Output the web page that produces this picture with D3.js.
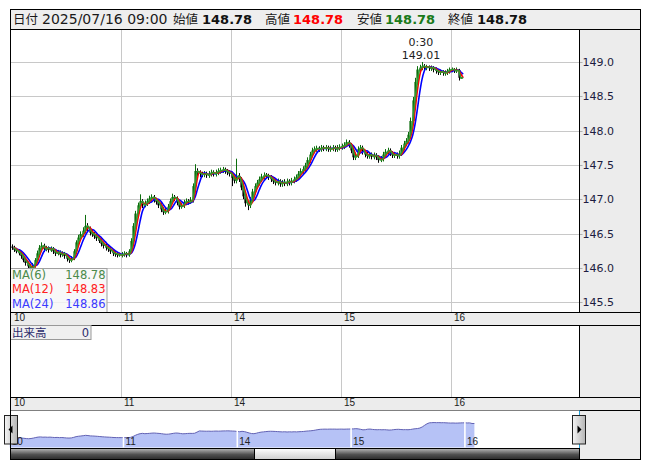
<!DOCTYPE html>
<html><head><meta charset="utf-8">
<script src="https://cdn.jsdelivr.net/npm/d3@7"></script>
<style>body{margin:0;background:#fff}svg{display:block}</style>
</head><body><svg id="c" width="653" height="470"></svg>
<script>
// ---------------- data (30-minute candles, sessions start 7:00) ----------------
const days = ["10","11","14","15","16"];
const firstOpen = 146.32;
const c10 = [146.30,146.27,146.25,146.22,146.18,146.12,146.08,146.03,146.00,146.04,146.12,146.22,146.30,146.33,146.28,146.30,146.27,146.29,146.25,146.22,146.24,146.20,146.22,146.18,146.14,146.12,146.15,146.25,146.38,146.45,146.50,146.55,146.62,146.58,146.52,146.50,146.47,146.44,146.40,146.36,146.33,146.30,146.28,146.25,146.22,146.21,146.20,146.20];
const h10 = [146.35,146.33,146.30,146.28,146.25,146.20,146.15,146.10,146.06,146.08,146.15,146.26,146.34,146.38,146.36,146.33,146.32,146.32,146.31,146.27,146.27,146.26,146.25,146.24,146.20,146.17,146.18,146.28,146.41,146.49,146.54,146.60,146.78,146.66,146.61,146.56,146.53,146.50,146.47,146.43,146.39,146.36,146.33,146.31,146.28,146.25,146.24,146.23];
const l10 = [146.27,146.24,146.22,146.19,146.14,146.09,146.04,145.99,145.96,145.97,146.01,146.09,146.19,146.27,146.24,146.25,146.23,146.24,146.21,146.18,146.19,146.16,146.17,146.14,146.10,146.08,146.09,146.12,146.22,146.34,146.42,146.46,146.51,146.54,146.48,146.46,146.43,146.40,146.37,146.32,146.29,146.26,146.24,146.21,146.18,146.17,146.16,146.17];
const c11 = [146.20,146.22,146.20,146.25,146.40,146.62,146.80,146.92,146.98,146.92,146.95,146.98,147.02,147.04,147.00,146.97,146.92,146.86,146.82,146.84,146.90,146.98,147.04,147.02,146.96,146.90,146.92,146.96,146.98,146.97,147.00,147.20,147.42,147.40,147.38,147.37,147.38,147.36,147.38,147.40,147.38,147.40,147.42,147.43,147.44,147.42,147.40,147.38];
const h11 = [146.24,146.25,146.24,146.28,146.44,146.66,146.84,146.96,147.08,147.01,146.99,147.02,147.06,147.08,147.07,147.03,147.00,146.95,146.89,146.88,146.94,147.02,147.09,147.07,147.05,146.99,146.96,147.00,147.02,147.01,147.04,147.24,147.52,147.46,147.43,147.41,147.42,147.41,147.42,147.44,147.43,147.44,147.46,147.47,147.48,147.47,147.45,147.43];
const l11 = [146.16,146.17,146.16,146.17,146.22,146.37,146.58,146.76,146.88,146.88,146.89,146.91,146.94,146.98,146.96,146.93,146.88,146.82,146.78,146.79,146.80,146.86,146.94,146.98,146.92,146.86,146.87,146.88,146.92,146.93,146.94,146.96,147.16,147.35,147.33,147.33,147.33,147.32,147.32,147.34,147.34,147.34,147.36,147.38,147.39,147.38,147.36,147.34];
const c14 = [147.32,147.28,147.35,147.30,147.18,147.05,146.95,146.92,147.00,147.12,147.20,147.25,147.30,147.34,147.36,147.35,147.33,147.30,147.27,147.25,147.27,147.23,147.26,147.24,147.27,147.25,147.28,147.30,147.33,147.38,147.42,147.45,147.50,147.58,147.66,147.72,147.74,147.75,147.74,147.76,147.75,147.76,147.74,147.75,147.76,147.74,147.76,147.77];
const h14 = [147.41,147.35,147.60,147.39,147.33,147.21,147.08,146.98,147.04,147.16,147.24,147.29,147.34,147.38,147.40,147.39,147.38,147.36,147.33,147.30,147.31,147.30,147.29,147.30,147.31,147.30,147.32,147.34,147.37,147.42,147.46,147.49,147.54,147.62,147.70,147.76,147.78,147.79,147.78,147.80,147.79,147.80,147.79,147.79,147.80,147.79,147.80,147.81];
const l14 = [147.20,147.24,147.24,147.26,147.14,147.01,146.90,146.85,146.88,146.96,147.08,147.16,147.21,147.26,147.30,147.31,147.29,147.26,147.23,147.21,147.21,147.19,147.19,147.20,147.20,147.21,147.21,147.24,147.26,147.29,147.34,147.38,147.41,147.46,147.54,147.62,147.68,147.70,147.70,147.70,147.71,147.71,147.70,147.70,147.71,147.70,147.70,147.72];
const c15 = [147.78,147.80,147.84,147.80,147.72,147.62,147.65,147.74,147.76,147.70,147.66,147.64,147.66,147.63,147.65,147.62,147.58,147.60,147.66,147.70,147.72,147.68,147.65,147.66,147.64,147.68,147.76,147.82,147.86,147.95,148.15,148.45,148.72,148.90,148.93,148.95,148.93,148.94,148.92,148.93,148.90,148.88,148.86,148.87,148.85,148.86,148.88,148.90];
const h15 = [147.82,147.84,147.88,147.87,147.83,147.75,147.69,147.78,147.80,147.79,147.73,147.70,147.70,147.69,147.69,147.68,147.65,147.64,147.70,147.74,147.76,147.75,147.71,147.70,147.69,147.72,147.80,147.86,147.90,147.99,148.20,148.50,148.78,148.95,148.97,149.01,148.98,148.97,148.96,148.96,148.95,148.93,148.90,148.90,148.89,148.89,148.91,148.93];
const l15 = [147.73,147.74,147.77,147.76,147.68,147.58,147.58,147.61,147.70,147.66,147.62,147.60,147.60,147.59,147.59,147.58,147.54,147.55,147.56,147.62,147.66,147.64,147.61,147.61,147.60,147.60,147.64,147.72,147.78,147.82,147.91,148.10,148.40,148.68,148.86,148.89,148.89,148.89,148.88,148.88,148.86,148.84,148.82,148.82,148.81,148.81,148.82,148.84];
const c16 = [148.90,148.88,148.89,148.78,148.78];
const h16 = [148.93,148.92,148.93,148.91,148.78];
const l16 = [148.86,148.85,148.85,148.74,148.78];
const candleMinutes = 30;          // interval of the arrays above
const maBaseMinutes = 5;           // MA periods are counted in 5-minute bars
const peakTimeLabel = "0:30";
const priceTicks = [145.5,146.0,146.5,147.0,147.5,148.0,148.5,149.0];
const maPeriods = [6,12,24];
const maColors = ["#2f9a2f","#ff0000","#0000ff"];
const maTextColors = ["#4a8a4a","#ff2020","#3a3aff"];
const maLegendValues = ["148.78","148.83","148.86"];
const headerDate = "2025/07/16 09:00";
const headerLabels = ["始値","高値","安値","終値"];
const headerValues = ["148.78","148.78","148.78","148.78"];
const headerColors = ["#111","#ff0000","#1a7a1a","#111"];
const volumeLabel = "出来高", volumeValue = "0";

// ---------------- build candles ----------------
const closes = [c10,c11,c14,c15,c16], highs = [h10,h11,h14,h15,h16], lows = [l10,l11,l14,l15,l16];
const candles = [];
let prev = firstOpen;
closes.forEach((arr,k)=>arr.forEach((c,j)=>{
  candles.push({t:k*24+j*candleMinutes/60, o:prev, h:highs[k][j], l:lows[k][j], c});
  prev = c;
}));
maPeriods.forEach((p,m)=>{
  const n = Math.max(1, Math.round(p*maBaseMinutes/candleMinutes));
  candles.forEach((d,i)=>{
    const s = candles.slice(Math.max(0,i-n+1), i+1);
    d["ma"+m] = d3.mean(s, e=>e.c);
  });
});

const svg = d3.select("#c");
const CJK = "'Noto Sans CJK JP', sans-serif";
const SANS = "'DejaVu Sans', sans-serif";
const defs = svg.append("defs");
defs.append("clipPath").attr("id","pc").append("rect").attr("x",10.5).attr("y",29.5).attr("width",569).attr("height",283);
const gDark = defs.append("linearGradient").attr("id","gDark").attr("x1",0).attr("y1",0).attr("x2",0).attr("y2",1);
gDark.append("stop").attr("offset",0).attr("stop-color","#b8b8b8");
gDark.append("stop").attr("offset",0.55).attr("stop-color","#505050");
gDark.append("stop").attr("offset",1).attr("stop-color","#2a2a2a");
const gLight = defs.append("linearGradient").attr("id","gLight").attr("x1",0).attr("y1",0).attr("x2",0).attr("y2",1);
gLight.append("stop").attr("offset",0).attr("stop-color","#ffffff");
gLight.append("stop").attr("offset",1).attr("stop-color","#cdcdcd");
const gBtn = defs.append("linearGradient").attr("id","gBtn").attr("x1",0).attr("y1",0).attr("x2",1).attr("y2",0);
gBtn.append("stop").attr("offset",0).attr("stop-color","#f6f6f6");
gBtn.append("stop").attr("offset",1).attr("stop-color","#b4b4b4");

// backgrounds
svg.append("rect").attr("width",653).attr("height",470).attr("fill","#fff");
svg.append("rect").attr("x",579.5).attr("y",29.5).attr("width",61).attr("height",430).attr("fill","#ececec");

// scales
const x = d3.scaleLinear().domain([0,120]).range([11.7,561.7]);
const y = d3.scaleLinear().domain([145.364,149.4915]).range([312,29]);
const dayStarts = days.map((d,k)=>k*24);

// grid
const grid = svg.append("g").attr("stroke","#c8c8c8").attr("stroke-width",1);
priceTicks.forEach(p=>{
  const yy = Math.floor(y(p))+0.5;
  grid.append("line").attr("x1",10.5).attr("x2",579.5).attr("y1",yy).attr("y2",yy);
});
dayStarts.slice(1).forEach(t=>{
  const xx = Math.floor(x(t))+0.5;
  grid.append("line").attr("x1",xx).attr("x2",xx).attr("y1",29.5).attr("y2",312.5);
  grid.append("line").attr("x1",xx).attr("x2",xx).attr("y1",325.5).attr("y2",397.5);
});

// candles
const plot = svg.append("g").attr("clip-path","url(#pc)");
const cg = plot.append("g");
candles.forEach(d=>{
  const cx = Math.round(x(d.t))+0.5;
  const col = d.c >= d.o ? "#0c6e0c" : "#000";
  cg.append("line").attr("x1",cx).attr("x2",cx).attr("y1",y(d.h)).attr("y2",y(d.l)).attr("stroke",col).attr("stroke-width",1);
  const top = y(Math.max(d.o,d.c)), bot = y(Math.min(d.o,d.c));
  cg.append("rect").attr("x",cx-1.1).attr("width",2.2).attr("y",top).attr("height",Math.max(1,bot-top)).attr("fill",col);
});
// moving averages, each point placed at its candle's close time
const closeT = d => d.t + candleMinutes/60;
[2,1,0].forEach(m=>{
  plot.append("path").datum(candles)
    .attr("d", d3.line().curve(d3.curveMonotoneX).x(d=>x(closeT(d))).y(d=>y(d["ma"+m])))
    .attr("fill","none").attr("stroke",maColors[m]).attr("stroke-width",1.6).attr("stroke-linejoin","round");
});

// peak annotation
const peak = candles.reduce((a,b)=>b.h>a.h?b:a);
svg.append("text").attr("x",x(peak.t)-1).attr("y",45.5).attr("text-anchor","middle")
  .attr("font-family",SANS).attr("font-size",11).attr("fill","#222").text(peakTimeLabel);
svg.append("text").attr("x",x(peak.t)-1).attr("y",58.5).attr("text-anchor","middle")
  .attr("font-family",SANS).attr("font-size",11).attr("fill","#222").text(d3.format(".2f")(peak.h));

// price axis
const ax = svg.append("g").attr("transform","translate(579.5,0)")
  .call(d3.axisRight(y).tickValues(priceTicks).tickFormat(d3.format(".1f")).tickSize(3).tickPadding(0));
ax.select(".domain").remove();
ax.selectAll(".tick").attr("transform",d=>`translate(0,${Math.floor(y(d))+0.5})`);
ax.selectAll(".tick line").attr("stroke","#b0b0b0");
ax.selectAll(".tick text").attr("font-family",SANS).attr("font-size",11).attr("fill","#1c1c40").attr("dy","0.36em");

// legend
const lg = svg.append("g");
lg.append("rect").attr("x",10.5).attr("y",268.5).attr("width",96.5).attr("height",44)
  .attr("fill","#f6f6f6").attr("fill-opacity",0.82).attr("stroke","#a0a0a0");
const lgY = [278.5,293,307.5];
maPeriods.forEach((p,m)=>{
  lg.append("text").attr("x",12).attr("y",lgY[m]).attr("font-family",SANS).attr("font-size",11.5)
    .attr("fill",maTextColors[m]).text(`MA(${p})`);
  lg.append("text").attr("x",105.5).attr("y",lgY[m]).attr("text-anchor","end").attr("font-family",SANS).attr("font-size",11.5)
    .attr("fill",maTextColors[m]).text(maLegendValues[m]);
});

// date strips
[312.5,397.5].forEach(sy=>{
  svg.append("rect").attr("x",10.5).attr("y",sy).attr("width",630).attr("height",13).attr("fill","#ececec").attr("stroke","#000");
  const dx = svg.append("g").attr("transform",`translate(0,${sy})`)
    .call(d3.axisBottom(x).tickValues(dayStarts).tickFormat((t,i)=>days[i]).tickSize(0).tickPadding(0));
  dx.select(".domain").remove();
  dx.selectAll(".tick text").attr("text-anchor","start").attr("x",1.8).attr("y",8.6).attr("dy",0)
    .attr("font-family","'Liberation Sans', sans-serif").attr("font-size",10).attr("fill","#222");
});

// volume label
svg.append("rect").attr("x",10.5).attr("y",325.5).attr("width",80.5).attr("height",14).attr("fill","#f0f0f0").attr("stroke","#999");
svg.append("text").attr("x",12).attr("y",336.5).attr("font-family",CJK).attr("font-size",11.5).attr("fill","#2c2c6c").text(volumeLabel);
svg.append("text").attr("x",89).attr("y",336.5).attr("text-anchor","end").attr("font-family",SANS).attr("font-size",11.5).attr("fill","#2c2c6c").text(volumeValue);

// dividers
const dv = svg.append("g").attr("stroke","#000");
dv.append("line").attr("x1",579.5).attr("x2",579.5).attr("y1",29.5).attr("y2",312.5);
dv.append("line").attr("x1",579.5).attr("x2",579.5).attr("y1",325.5).attr("y2",397.5);
dv.append("line").attr("x1",579.5).attr("x2",579.5).attr("y1",448).attr("y2",459.5);

// navigator
const xn = d3.scaleLinear().domain([0,120]).range([9.7,578.7]);
const yn = d3.scaleLinear().domain([144.4,151.15]).range([447.5,410.5]);
svg.append("rect").attr("x",10.5).attr("y",410.5).attr("width",569).attr("height",37.5).attr("fill","#fff");
svg.append("path").datum(candles)
  .attr("d", d3.area().x(d=>xn(d.t)).y0(447.5).y1(d=>yn(d.c)))
  .attr("fill","#b6c2f6");
svg.append("path").datum(candles)
  .attr("d", d3.line().x(d=>xn(d.t)).y(d=>yn(d.c)))
  .attr("fill","none").attr("stroke","#6262b4").attr("stroke-width",1);
dayStarts.forEach((t,i)=>{
  const xx = xn(t);
  if (i>0) svg.append("line").attr("x1",xx).attr("x2",xx).attr("y1",412).attr("y2",447.5).attr("stroke","#fff").attr("stroke-width",1.6);
  svg.append("text").attr("x",xx+2).attr("y",445).attr("font-family","'Liberation Sans', sans-serif").attr("font-size",10).attr("fill","#222").text(days[i]);
});
// range markers
svg.append("line").attr("x1",10.5).attr("x2",10.5).attr("y1",410.5).attr("y2",448).attr("stroke","#22a0d8");
svg.append("line").attr("x1",579.5).attr("x2",579.5).attr("y1",410.5).attr("y2",448).attr("stroke","#22a0d8");
// buttons
[[4.5,"L"],[572.5,"R"]].forEach(([bx,dir])=>{
  svg.append("rect").attr("x",bx).attr("y",415.5).attr("width",13).attr("height",28.5).attr("fill","url(#gBtn)").attr("stroke","#222");
  const cx = bx+6.5, cy = 429.5;
  const pts = dir==="L" ? [[cx-2.5,cy],[cx+1.5,cy-4],[cx+1.5,cy+4]] : [[cx+2.5,cy],[cx-1.5,cy-4],[cx-1.5,cy+4]];
  svg.append("path").attr("d","M"+pts.join("L")+"Z").attr("fill","#000");
});
// scrollbar
svg.append("rect").attr("x",10.5).attr("y",448.5).attr("width",569).attr("height",11).attr("fill","url(#gDark)").attr("stroke","#000");
svg.append("rect").attr("x",254.5).attr("y",448.5).attr("width",81).attr("height",11).attr("fill","url(#gLight)").attr("stroke","#000");

// header
svg.append("rect").attr("x",10.5).attr("y",9.5).attr("width",630).attr("height",20).attr("fill","#eeeeee").attr("stroke","#000");
const hy = 23.5;
svg.append("text").attr("x",13).attr("y",hy).attr("font-family",CJK).attr("font-size",12.5).attr("fill","#1a1a1a").text("日付");
svg.append("text").attr("x",42).attr("y",hy).attr("font-family",SANS).attr("font-size",14).attr("fill","#1a1a1a").text(headerDate);
const hlx = [173,265,357,448], hvx = [202,293,385,477];
headerLabels.forEach((lab,i)=>{
  svg.append("text").attr("x",hlx[i]).attr("y",hy).attr("font-family",CJK).attr("font-size",12.5).attr("fill","#1a1a1a").text(lab);
  svg.append("text").attr("x",hvx[i]).attr("y",hy).attr("font-family",SANS).attr("font-weight","bold").attr("font-size",13)
    .attr("fill",headerColors[i]).text(headerValues[i]);
});

// outer frame
svg.append("rect").attr("x",10.5).attr("y",9.5).attr("width",630).attr("height",450).attr("fill","none").attr("stroke","#000");
</script></body></html>
